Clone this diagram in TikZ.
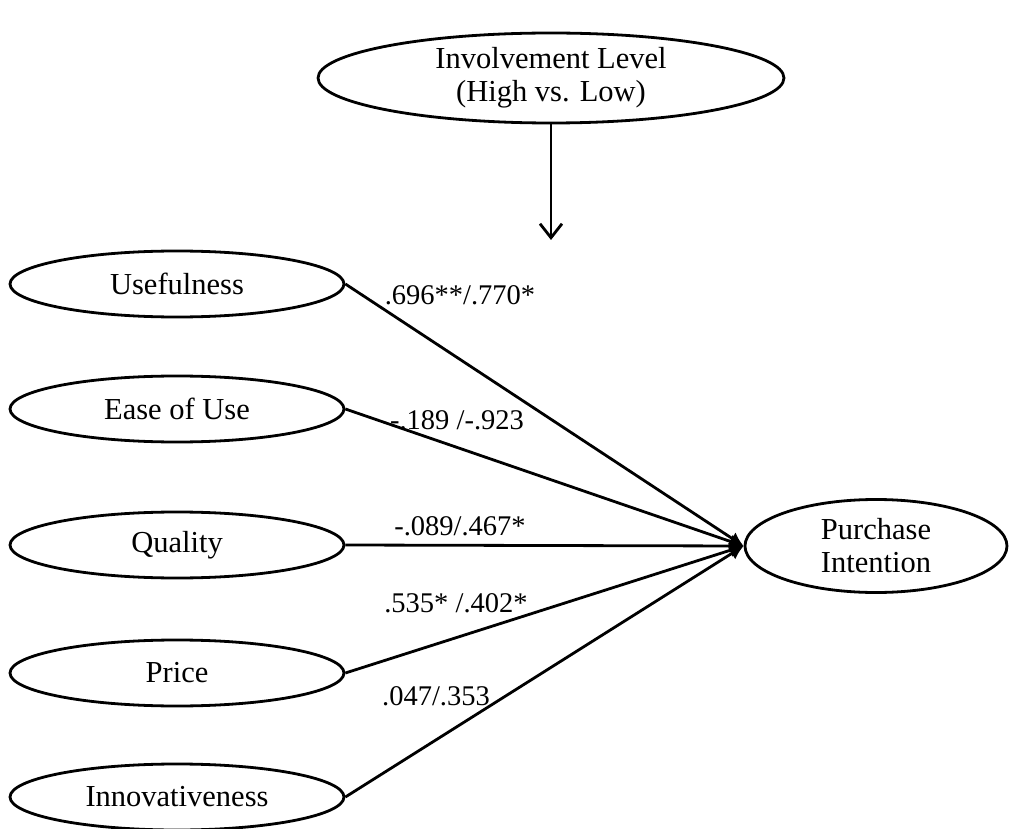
\documentclass[tikz,border=0pt]{standalone}
\usepackage{fontspec}
\setmainfont{Liberation Serif}
\usetikzlibrary{shapes.geometric,arrows.meta}
\begin{document}
\begin{tikzpicture}[x=1pt,y=-1pt,
  every node/.style={font=\fontsize{30.5}{33}\selectfont},
  oval/.style={draw,ellipse,line width=2.8pt,inner sep=0pt,align=center},
  smalloval/.style={oval,minimum width=334pt,minimum height=66pt},
  path/.style={line width=2.8pt,-{Latex[length=14pt,width=14pt]}},
  modarrow/.style={line width=2.8pt,-{Straight Barb[length=14pt,width=22pt,line width=2.8pt]}},
  coef/.style={inner sep=0pt,font=\fontsize{28.5}{33}\selectfont}]
\useasboundingbox (0,0) rectangle (1010,829);
\node[oval,minimum width=466pt,minimum height=90pt] (inv) at (551,78) {Involvement Level\\(High vs. Low)};
\coordinate (m) at (551,240);
\node[smalloval] (u) at (177,284) {Usefulness};
\node[smalloval] (e) at (177,409) {Ease of Use};
\node[smalloval] (q) at (177,545) {Quality};
\node[smalloval] (p) at (177,673) {Price};
\node[smalloval] (i) at (177,797) {Innovativeness};
\node[oval,minimum width=262pt,minimum height=93pt] (pi) at (876,546) {Purchase\\Intention};
\draw[modarrow] (inv.south) -- (m);
\draw[path] (u.east) -- (pi.west);
\draw[path] (e.east) -- (pi.west);
\draw[path] (q.east) -- (pi.west);
\draw[path] (p.east) -- (pi.west);
\draw[path] (i.east) -- (pi.west);
\node[coef] (l1) at (460,295) {.696**/.770*};
\node[coef] (l2) at (457,420) {-.189 /-.923};
\node[coef] (l3) at (460,526) {-.089/.467*};
\node[coef] (l4) at (456,603) {.535* /.402*};
\node[coef] (l5) at (436,696) {.047/.353};
\end{tikzpicture}
\end{document}
